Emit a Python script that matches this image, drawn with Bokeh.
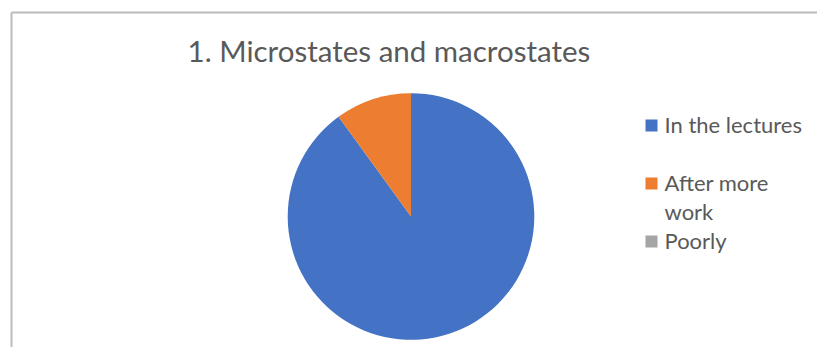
import math
from bokeh.plotting import figure
from bokeh.models import Range1d, ColumnDataSource
from bokeh.core.properties import value
from bokeh.embed import file_html
from bokeh.resources import INLINE

# Survey answers for topic 1
categories = ["In the lectures", "After more work", "Poorly"]
counts = [9, 1, 0]
colors = ["#4472C4", "#ED7D31", "#A5A5A5"]
title_text = "1. Microstates and macrostates"

W, H = 817, 347
FONT = "Lato"
TEXT_COLOR = "#595959"

p = figure(width=W, height=H, output_backend="svg", toolbar_location=None,
           x_range=Range1d(0, W), y_range=Range1d(0, H), min_border=0,
           outline_line_color=None, background_fill_color="white",
           border_fill_color="white")
p.axis.visible = False
p.grid.visible = False

# chart area frame (left and top edges)
p.line(x=[11, 11], y=[0, H - 12], line_color="#BBBBBB", line_width=2)
p.line(x=[11, W], y=[H - 12, H - 12], line_color="#BBBBBB", line_width=2)

# pie slices: start at 12 o'clock, run clockwise; empty slices are skipped
total = sum(counts)
pie = dict(cat=[], n=[], start=[], end=[], color=[])
acc = 0.0
for cat, c, col in zip(categories, counts, colors):
    a0 = math.pi / 2 - 2 * math.pi * acc / total
    acc += c
    a1 = math.pi / 2 - 2 * math.pi * acc / total
    if c > 0:
        pie["cat"].append(cat)
        pie["n"].append(c)
        pie["start"].append(a0)
        pie["end"].append(a1)
        pie["color"].append(col)

src = ColumnDataSource(pie)
cx, cy, r = 410.5, H - 216, 123.3
p.wedge(x=cx, y=cy, radius=r, start_angle="start", end_angle="end",
        direction="clock", fill_color="color", line_color=None, source=src)

# title
p.text(x=[388.5], y=[H - 50], text=[title_text], text_font=value(FONT),
       text_font_size="29.5px", text_color=TEXT_COLOR, text_align="center",
       text_baseline="alphabetic")

# legend
wrapped = {"After more work": ["After more", "work"]}
row_y = [125, 183, 241]
for cat, col, ry in zip(categories, colors, row_y):
    p.rect(x=[651], y=[H - ry], width=12, height=12,
           fill_color=col, line_color=None)
    lines = wrapped.get(cat, [cat])
    for i, ln in enumerate(lines):
        p.text(x=[664], y=[H - (ry - 1 + 29 * i)], text=[ln],
               text_font=value(FONT), text_font_size="22px",
               text_color=TEXT_COLOR, text_align="left",
               text_baseline="alphabetic")

open("out.html", "w").write(file_html(p, INLINE))
